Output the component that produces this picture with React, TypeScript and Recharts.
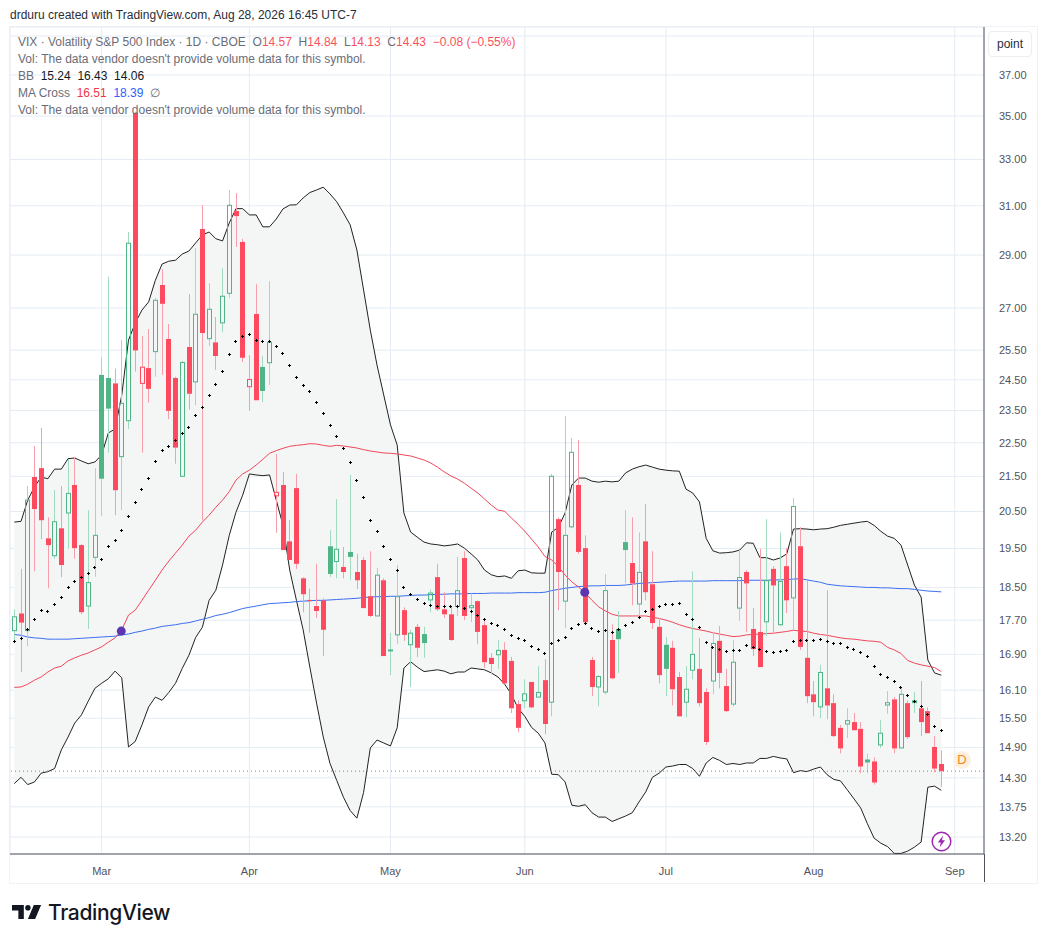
import React from 'react';
import { ComposedChart, XAxis, YAxis, CartesianGrid, Area, Line, Bar, ReferenceLine } from 'recharts';

const opens = [17.45,17.86,17.45,21.48,21.74,19.77,19.31,20.04,20.46,21.25,
19.59,18.04,19.27,24.66,24.56,24.38,22.08,23.18,35.15,24.38,
24.89,25.45,27.85,25.89,24.56,21.50,25.61,24.43,30.04,25.90,
25.77,26.46,27.54,30.78,29.52,24.27,26.78,24.93,25.07,20.94,
21.25,19.69,21.16,18.73,18.19,18.04,18.18,19.56,19.16,19.02,
19.41,18.89,19.20,18.28,17.80,18.68,16.99,17.35,17.94,17.12,
17.54,17.37,18.19,18.76,17.96,17.84,18.03,19.25,18.00,18.16,
17.58,16.82,16.89,17.00,16.75,15.80,15.87,16.28,15.95,16.32,
15.84,20.29,18.16,20.08,21.25,19.51,16.77,16.17,16.06,17.23,
17.49,19.67,19.12,18.09,19.69,18.58,17.54,17.12,17.05,16.39,
15.84,16.54,16.57,16.06,16.30,17.21,16.19,15.80,17.99,18.89,
17.49,17.42,17.66,18.97,17.59,19.04,18.24,19.56,16.82,16.01,
15.74,16.14,15.82,15.30,15.38,15.42,15.28,14.66,14.62,14.95,
15.78,15.90,14.89,15.82,15.88,15.71,15.65,14.91,14.57];
const highs = [17.96,18.97,21.22,22.40,22.95,20.34,21.10,21.22,22.01,22.07,
19.62,20.54,21.74,25.24,28.16,24.87,25.85,29.92,35.20,25.99,
26.24,27.36,28.45,26.42,24.60,25.13,27.51,29.27,31.03,27.92,
26.67,28.49,31.67,31.54,29.64,25.33,27.88,25.30,27.99,22.16,
21.63,20.26,21.57,18.76,18.47,19.10,18.23,19.99,20.85,19.54,
21.54,19.36,19.28,19.43,19.00,18.73,17.40,19.07,18.01,17.47,
17.61,17.54,18.45,19.10,18.38,18.04,19.28,19.43,18.35,18.18,
17.72,16.93,17.23,17.18,16.84,15.88,16.34,16.28,16.63,16.79,
21.57,20.34,23.33,22.64,22.58,19.85,16.84,16.43,18.84,17.60,
17.92,20.54,20.34,19.93,20.71,19.43,17.75,17.30,17.21,16.50,
16.63,18.91,17.28,16.14,17.42,17.56,16.57,17.23,19.46,18.94,
17.99,19.49,20.29,19.04,19.93,19.51,20.88,20.07,18.68,16.30,
16.66,18.43,16.01,15.36,15.71,15.61,15.42,14.78,14.70,15.46,
16.08,15.95,16.14,15.88,16.06,16.30,15.73,15.13,14.84];
const lows = [17.16,16.50,17.08,18.91,19.75,18.48,19.23,18.76,19.49,19.23,
17.84,17.49,18.77,20.38,22.20,20.40,20.54,22.92,24.77,22.20,
23.75,24.60,24.66,23.23,21.87,21.49,23.53,23.67,20.26,25.64,
24.83,26.13,27.36,29.32,25.09,23.49,23.83,23.77,24.33,19.92,
19.46,19.20,18.97,17.89,17.40,17.75,16.86,18.76,18.73,18.73,
18.68,18.46,17.99,17.77,17.80,16.86,16.43,17.14,17.21,16.17,
16.84,16.82,17.89,17.92,17.75,17.21,17.80,17.70,17.65,17.14,
16.59,16.45,16.57,16.25,15.61,15.21,15.71,15.71,15.95,15.17,
15.54,17.94,17.51,20.04,19.36,17.63,15.97,15.75,16.01,16.34,
16.48,18.60,18.06,17.75,18.18,17.49,16.25,15.97,15.77,15.54,
15.52,16.34,15.75,14.95,16.01,16.14,15.63,15.75,17.68,17.42,
16.86,16.61,17.32,17.42,17.56,17.87,17.47,17.00,15.82,15.54,
15.50,15.48,15.11,14.78,15.09,15.25,14.39,14.39,14.17,14.89,
15.59,14.78,14.89,15.07,15.61,15.13,15.19,14.41,14.13];
const closes = [17.78,17.64,20.82,20.57,20.26,19.59,20.22,19.07,21.01,19.51,
17.89,18.62,19.85,21.43,23.56,21.10,23.73,29.47,25.49,24.92,
24.20,27.28,27.15,23.49,22.35,25.08,24.04,26.77,26.10,26.95,
25.30,27.43,31.02,30.57,25.24,24.51,23.83,24.13,25.77,21.04,
19.46,19.20,19.10,18.33,18.16,17.92,17.47,18.84,19.48,18.89,
19.28,18.68,17.99,17.80,18.81,16.86,17.00,18.27,17.35,17.39,
17.05,17.16,18.36,17.96,17.84,17.23,18.42,17.80,18.05,17.42,
16.72,16.68,16.99,16.25,15.71,15.30,16.02,15.73,16.05,15.38,
21.50,18.89,19.85,22.21,19.41,17.65,16.17,16.40,18.42,16.36,
17.25,19.46,18.60,18.88,18.38,17.63,16.43,16.57,16.12,15.54,
16.12,16.90,15.82,15.01,17.15,16.48,15.65,16.72,18.75,18.60,
17.02,16.61,18.67,18.55,18.65,18.18,20.64,17.07,15.97,15.84,
16.49,15.77,15.13,14.88,15.45,15.25,14.52,14.60,14.21,15.19,
15.83,14.88,16.01,15.11,15.82,15.42,15.19,14.48,14.43];
const bbUpper = [20.21,20.23,20.82,21.19,21.48,21.43,21.71,21.71,22.02,22.04,
21.95,21.87,21.92,22.13,22.80,22.92,24.00,25.85,26.45,26.92,
27.22,28.03,28.65,28.76,28.80,29.04,29.16,29.48,29.80,29.92,
29.65,29.56,30.29,30.88,30.88,30.62,30.62,30.13,30.13,30.45,
30.87,31.03,31.04,31.33,31.56,31.67,31.79,31.50,31.17,30.70,
30.21,29.20,27.66,26.20,24.99,24.00,23.05,22.43,20.46,19.94,
19.80,19.67,19.62,19.60,19.57,19.59,19.62,19.51,19.36,19.20,
18.94,18.82,18.77,18.79,18.73,18.92,18.94,18.87,18.86,18.86,
19.94,20.07,20.46,21.25,21.45,21.45,21.36,21.33,21.36,21.34,
21.36,21.60,21.71,21.78,21.83,21.77,21.71,21.68,21.66,21.65,
21.13,21.02,20.77,19.77,19.44,19.38,19.39,19.41,19.46,19.65,
19.64,19.26,19.26,19.20,19.25,19.36,20.02,20.03,20.02,20.00,
20.02,20.03,20.07,20.12,20.15,20.18,20.21,20.23,20.12,19.96,
19.83,19.77,19.59,19.07,18.56,18.26,16.77,16.48,16.43];
const bbLower = [14.19,14.31,14.17,14.22,14.39,14.42,14.48,14.85,15.11,15.40,
15.57,15.86,16.14,16.25,16.35,16.52,16.37,14.91,15.02,15.36,
15.74,15.95,15.88,16.05,16.25,16.58,16.88,17.29,17.53,18.18,
18.43,19.07,19.85,20.48,20.96,21.57,21.54,21.52,21.54,20.82,
20.12,18.94,18.18,17.47,16.61,15.82,15.11,14.58,14.25,13.93,
13.68,13.54,14.02,14.89,15.05,14.99,14.93,15.30,16.59,16.73,
16.61,16.51,16.53,16.55,16.52,16.46,16.50,16.50,16.59,16.57,
16.55,16.48,16.39,16.23,16.01,15.71,15.54,15.31,15.19,14.99,
14.37,14.36,14.22,13.78,13.76,13.79,13.64,13.56,13.56,13.48,
13.53,13.58,13.64,13.84,14.03,14.31,14.39,14.51,14.53,14.56,
14.56,14.48,14.33,14.59,14.70,14.64,14.56,14.58,14.56,14.59,
14.59,14.68,14.68,14.72,14.69,14.67,14.40,14.44,14.42,14.47,
14.51,14.36,14.27,14.24,14.07,13.90,13.73,13.44,13.18,13.09,
13.03,12.91,12.91,12.95,13.02,13.11,14.12,14.14,14.06];
const bbBasis = [17.19,17.27,17.48,17.72,17.93,17.91,18.08,18.25,18.50,18.65,
18.76,18.85,19.01,19.22,19.56,19.71,19.98,20.36,20.76,21.12,
21.44,21.94,22.27,22.39,22.58,22.79,22.97,23.35,23.60,23.98,
24.35,24.78,25.36,25.80,25.99,26.05,25.85,25.80,25.80,25.63,
25.39,24.98,24.58,24.31,24.11,23.76,23.41,23.03,22.70,22.31,
21.92,21.39,20.90,20.25,19.95,19.56,19.22,18.93,18.50,18.32,
18.20,18.10,18.05,18.04,18.02,18.02,18.03,17.99,17.91,17.82,
17.72,17.62,17.58,17.48,17.34,17.27,17.22,17.09,17.02,16.92,
17.15,17.22,17.29,17.50,17.60,17.62,17.50,17.43,17.46,17.41,
17.47,17.58,17.65,17.76,17.91,17.96,18.03,18.08,18.08,18.10,
17.84,17.72,17.53,17.18,17.06,17.02,16.97,16.99,16.99,17.11,
17.05,17.00,16.97,16.95,16.97,16.99,17.20,17.23,17.22,17.22,
17.25,17.20,17.15,17.15,17.06,17.02,16.95,16.86,16.63,16.45,
16.38,16.29,16.16,15.98,15.86,15.75,15.57,15.32,15.24];
const ma50 = [16.16,16.17,16.23,16.32,16.39,16.50,16.59,16.63,16.75,16.82,
16.88,16.93,17.00,17.07,17.18,17.28,17.47,17.82,17.94,18.18,
18.43,18.68,18.94,19.17,19.38,19.59,19.83,19.99,20.21,20.40,
20.62,20.82,21.06,21.39,21.57,21.68,21.83,22.00,22.18,22.26,
22.33,22.39,22.42,22.44,22.47,22.46,22.42,22.39,22.42,22.40,
22.37,22.34,22.29,22.25,22.22,22.19,22.18,22.16,22.13,22.10,
22.04,21.98,21.89,21.77,21.63,21.51,21.42,21.30,21.16,21.02,
20.85,20.68,20.54,20.51,20.32,20.15,19.96,19.75,19.54,19.29,
19.20,19.03,18.81,18.64,18.51,18.36,18.18,18.02,17.92,17.84,
17.80,17.80,17.80,17.80,17.80,17.77,17.74,17.70,17.65,17.59,
17.54,17.50,17.47,17.44,17.40,17.37,17.34,17.31,17.32,17.35,
17.36,17.37,17.38,17.39,17.41,17.43,17.46,17.44,17.43,17.39,
17.36,17.34,17.31,17.28,17.26,17.25,17.23,17.21,17.20,17.18,
17.06,17.00,16.92,16.76,16.70,16.66,16.63,16.60,16.51];
const ma200 = [17.36,17.34,17.30,17.28,17.27,17.25,17.25,17.25,17.25,17.26,
17.27,17.28,17.29,17.30,17.31,17.32,17.35,17.37,17.41,17.44,
17.48,17.51,17.55,17.57,17.59,17.62,17.64,17.68,17.72,17.76,
17.81,17.84,17.88,17.93,17.98,18.01,18.04,18.07,18.10,18.11,
18.12,18.13,18.15,18.16,18.17,18.18,18.18,18.19,18.20,18.21,
18.22,18.23,18.25,18.26,18.27,18.27,18.28,18.28,18.29,18.30,
18.31,18.31,18.32,18.33,18.33,18.34,18.34,18.34,18.35,18.35,
18.35,18.36,18.36,18.36,18.36,18.37,18.37,18.37,18.37,18.38,
18.42,18.45,18.48,18.50,18.52,18.53,18.54,18.54,18.55,18.55,
18.55,18.56,18.58,18.60,18.61,18.62,18.63,18.64,18.65,18.66,
18.66,18.66,18.66,18.66,18.67,18.67,18.67,18.67,18.67,18.68,
18.68,18.68,18.68,18.69,18.69,18.70,18.71,18.72,18.69,18.66,
18.63,18.58,18.56,18.54,18.53,18.52,18.51,18.50,18.50,18.49,
18.49,18.48,18.47,18.47,18.45,18.43,18.41,18.40,18.39];
const crossBars = [16, 85];
const crossValues = [17.44, 18.38];
const priceTicks = [39, 37, 35, 33, 31, 29, 27, 25.5, 24.5, 23.5, 22.5, 21.5, 20.5, 19.5, 18.5, 17.7, 16.9, 16.1, 15.5, 14.9, 14.3, 13.75, 13.2];
const monthBars = [13, 35, 56, 76, 97, 119, 140];
const monthLabels = ['Mar', 'Apr', 'May', 'Jun', 'Jul', 'Aug', 'Sep'];
const lastClose = 14.43;

const rows = opens.map((open, i) => {
  const close = closes[i];
  const prev = i > 0 ? closes[i - 1] : open;
  const crossAt = crossBars.indexOf(i);
  return {
    idx: i, open, close, high: highs[i], low: lows[i],
    range: [lows[i], highs[i]],
    band: [bbLower[i], bbUpper[i]],
    upper: bbUpper[i], lower: bbLower[i], basis: bbBasis[i],
    ma50: ma50[i], ma200: ma200[i],
    cross: crossAt >= 0 ? crossValues[crossAt] : null,
    rising: close >= prev,
    hollow: close > open,
  };
});

const RED = '#fd4a5e';
const GREEN = '#4fb587';
const RED_WICK = '#f79eaa';
const GREEN_WICK = '#a0dabf';

const Candle = (props: any) => {
  const { x, y, width, height, payload } = props;
  if (payload == null || !height) return null;
  const { high, low, open, close, rising, hollow } = payload;
  const span = Math.log(high / low);
  const at = (v: number) => y + (height * Math.log(high / v)) / span;
  const cx = Math.floor(x + width / 2);
  const top = at(Math.max(open, close));
  const bottom = at(Math.min(open, close));
  const color = rising ? GREEN : RED;
  const wick = rising ? GREEN_WICK : RED_WICK;
  const h = Math.max(bottom - top, 1);
  return (
    <g>
      <line x1={cx + 0.5} x2={cx + 0.5} y1={y} y2={top} stroke={wick} strokeWidth={1} />
      <line x1={cx + 0.5} x2={cx + 0.5} y1={top + h} y2={y + height} stroke={wick} strokeWidth={1} />
      {hollow ? (
        <rect x={cx - 1.5} y={top} width={4} height={h} fill="none" stroke={color} strokeWidth={1} />
      ) : (
        <rect x={cx - 2} y={top} width={5} height={h} fill={color} />
      )}
    </g>
  );
};

const Cross = (props: any) => {
  const { cx, cy, index } = props;
  if (cx == null || cy == null) return <g key={index} />;
  const px = Math.floor(cx) + 0.5;
  const py = Math.floor(cy) + 0.5;
  return (
    <path
      key={index}
      d={`M${px - 1.5} ${py}H${px + 1.5}M${px} ${py - 1.5}V${py + 1.5}`}
      stroke="#000"
      strokeWidth={1}
      fill="none"
    />
  );
};

const CrossMark = (props: any) => {
  const { cx, cy, index, payload } = props;
  if (payload == null || payload.cross == null) return <g key={index} />;
  return <circle key={index} cx={cx - 0.5} cy={cy} r={4.5} fill="#5e35b1" />;
};

const abs = (s: React.CSSProperties): React.CSSProperties => ({ position: 'absolute', ...s });
const FONT = '"Liberation Sans", Arial, sans-serif';
const GREY = '#6a6d78';
const LRED = '#f7525f';

const legendLine = (top: number, children: React.ReactNode) => (
  <div style={abs({ left: 18, top, fontSize: 12, lineHeight: '17px', color: GREY, whiteSpace: 'nowrap' })}>{children}</div>
);

export default function App() {
  return (
    <div style={abs({ left: 0, top: 0, width: 1046, height: 942, background: '#fff', fontFamily: FONT, overflow: 'hidden' })}>
      <div style={abs({ left: 10, top: 7, fontSize: 12, lineHeight: '16px', color: '#2a2e39' })}>
        drduru created with TradingView.com, Aug 28, 2026 16:45 UTC-7
      </div>
      <div style={abs({ left: 9, top: 26, width: 1027, height: 856, border: '1px solid #f0f3f6', boxSizing: 'content-box' })} />
      <div style={abs({ left: 0, top: 0 })}>
        <ComposedChart width={1046} height={942} data={rows} margin={{ top: 27, right: 10, bottom: 60, left: 10 }}>
          <CartesianGrid stroke="#e4ecf3" strokeWidth={1} />
          <XAxis
            dataKey="idx"
            type="number"
            domain={[-0.64, 144.36]}
            allowDataOverflow
            ticks={monthBars}
            interval={0}
            height={28}
            tickLine={false}
            tickMargin={7}
            axisLine={{ stroke: '#50535e' }}
            tick={{ fontSize: 11, fill: '#50535e', fontFamily: FONT }}
            tickFormatter={(v: number) => monthLabels[monthBars.indexOf(v)] ?? ''}
          />
          <YAxis
            orientation="right"
            scale="log"
            type="number"
            domain={[12.9, 39.48]}
            allowDataOverflow
            ticks={priceTicks}
            interval={0}
            width={52}
            tickLine={false}
            tickMargin={9}
            axisLine={{ stroke: '#50535e' }}
            tick={{ fontSize: 11, fill: '#50535e', fontFamily: FONT, textAnchor: 'start' }}
            tickFormatter={(v: number) => (v === 39 ? '' : v.toFixed(2))}
          />
          <Area dataKey="band" fill="#f4f6f6" fillOpacity={1} stroke="none" isAnimationActive={false} dot={false} activeDot={false} zIndex={100} />
          <ReferenceLine y={lastClose} stroke="#f7525f" strokeDasharray="1 3" strokeWidth={1} />
          <Line dataKey="upper" stroke="#222" strokeWidth={1} dot={false} activeDot={false} isAnimationActive={false} zIndex={110} />
          <Line dataKey="lower" stroke="#222" strokeWidth={1} dot={false} activeDot={false} isAnimationActive={false} zIndex={110} />
          <Line dataKey="ma200" stroke="#3b6ef0" strokeWidth={1} dot={false} activeDot={false} isAnimationActive={false} zIndex={120} />
          <Line dataKey="ma50" stroke="#f0475a" strokeWidth={1} dot={false} activeDot={false} isAnimationActive={false} zIndex={120} />
          <Line dataKey="basis" stroke="none" dot={Cross} activeDot={false} isAnimationActive={false} zIndex={130} />
          <Line dataKey="cross" stroke="none" dot={CrossMark} activeDot={false} isAnimationActive={false} zIndex={140} />
          <Bar dataKey="range" barSize={5} shape={Candle} isAnimationActive={false} zIndex={200} />
        </ComposedChart>
      </div>
      <div style={abs({ left: 984, top: 854, width: 1, height: 28, background: '#50535e' })} />

      {legendLine(33.5, (
        <span>
          VIX · Volatility S&amp;P 500 Index · 1D · CBOE&nbsp; O<span style={{ color: LRED }}>14.57</span>&nbsp; H<span style={{ color: LRED }}>14.84</span>&nbsp; L<span style={{ color: LRED }}>14.13</span>&nbsp; C<span style={{ color: LRED }}>14.43</span>&nbsp; <span style={{ color: LRED }}>−0.08 (−0.55%)</span>
        </span>
      ))}
      {legendLine(50.5, "Vol: The data vendor doesn't provide volume data for this symbol.")}
      {legendLine(67.5, (
        <span>BB&nbsp; <span style={{ color: '#131722' }}>15.24&nbsp; 16.43&nbsp; 14.06</span></span>
      ))}
      {legendLine(84.5, (
        <span>MA Cross&nbsp; <span style={{ color: '#f23645' }}>16.51</span>&nbsp; <span style={{ color: '#2962ff' }}>18.39</span>&nbsp; ∅</span>
      ))}
      {legendLine(101.5, "Vol: The data vendor doesn't provide volume data for this symbol.")}

      <div style={abs({ left: 988, top: 31, width: 44, height: 26, border: '1px solid #eceef1', borderRadius: 4, boxSizing: 'border-box', background: '#fff', textAlign: 'center', fontSize: 12, lineHeight: '24px', color: '#2a2e39' })}>point</div>

      <div style={abs({ left: 953, top: 751, width: 18, height: 18, borderRadius: 9, background: '#fdf0e0', color: '#f5891f', fontSize: 13, lineHeight: '18px', textAlign: 'center' })}>D</div>

      <svg style={abs({ left: 930, top: 830 })} width={23} height={23} viewBox="0 0 23 23">
        <circle cx={11.5} cy={11.5} r={9.3} fill="#fff" stroke="#9c27b0" strokeWidth={1.5} />
        <path d="M13 5.5 L7.8 12.5 H10.8 L9.6 17.5 L15 10.3 H12 Z" fill="#9c27b0" />
      </svg>

      <svg style={abs({ left: 12, top: 904 })} width={30} height={16} viewBox="0 0 33 17" preserveAspectRatio="none">
        <path d="M13 16H7V7H0V1h13z" fill="#131722" />
        <circle cx={17.5} cy={4} r={3} fill="#131722" />
        <path d="M24 1h8l-6.5 15h-8z" fill="#131722" />
      </svg>
      <div style={abs({ left: 48, top: 899.5, fontSize: 21, lineHeight: '26px', fontWeight: 500, fontFamily: 'Inter, "Liberation Sans", sans-serif', color: '#131722', letterSpacing: '-0.35px' })}>TradingView</div>
    </div>
  );
}
